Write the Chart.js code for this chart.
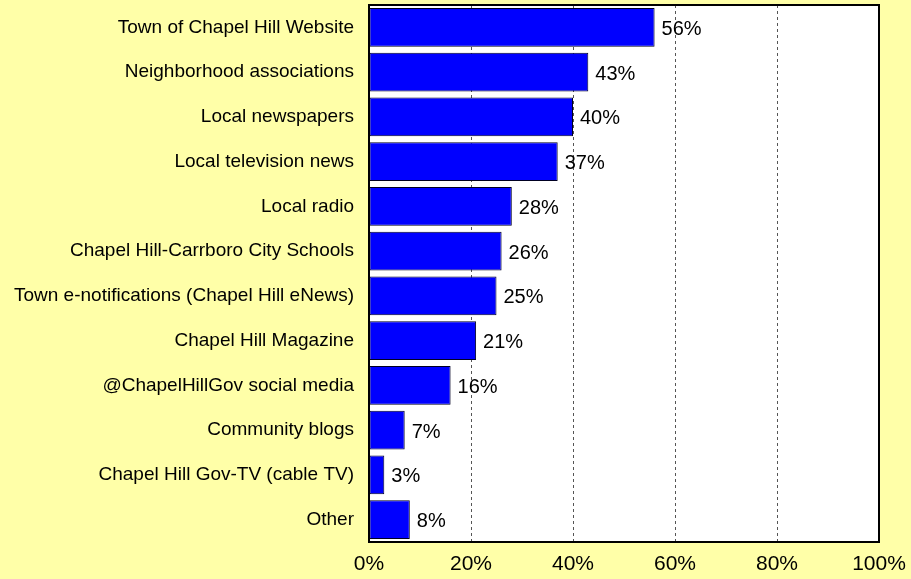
<!DOCTYPE html>
<html>
<head>
<meta charset="utf-8">
<script src="https://cdn.jsdelivr.net/npm/chart.js@4.4.1/dist/chart.umd.min.js"></script>
<style>
  html, body { margin: 0; padding: 0; background: #FFFFA8; }
  #wrap { width: 911px; height: 579px; position: relative; }
</style>
</head>
<body>
<div id="wrap"><canvas id="c"></canvas></div>
<script>
const categories = [
  "Town of Chapel Hill Website",
  "Neighborhood associations",
  "Local newspapers",
  "Local television news",
  "Local radio",
  "Chapel Hill-Carrboro City Schools",
  "Town e-notifications (Chapel Hill eNews)",
  "Chapel Hill Magazine",
  "@ChapelHillGov social media",
  "Community blogs",
  "Chapel Hill Gov-TV (cable TV)",
  "Other"
];
const shares = [56, 43, 40, 37, 28, 26, 25, 21, 16, 7, 3, 8];
const xTicks = [0, 20, 40, 60, 80, 100];

const FONT = "'Liberation Sans', Arial, sans-serif";

// white plot area + black frame
const plotFrame = {
  id: "plotFrame",
  beforeDraw(chart) {
    const { ctx, chartArea: a } = chart;
    ctx.save();
    ctx.fillStyle = "#FFFFFF";
    ctx.fillRect(a.left, a.top, a.right - a.left, a.bottom - a.top);
    ctx.restore();
  },
  afterDraw(chart) {
    const { ctx, chartArea: a } = chart;
    ctx.save();
    ctx.strokeStyle = "#000";
    ctx.lineWidth = 2;
    ctx.strokeRect(a.left, a.top, a.right - a.left, a.bottom - a.top);
    ctx.restore();
  }
};

// value labels right of each bar
const valueLabels = {
  id: "valueLabels",
  afterDatasetsDraw(chart) {
    const { ctx } = chart;
    const meta = chart.getDatasetMeta(0);
    ctx.save();
    ctx.font = "20px " + FONT;
    ctx.fillStyle = "#000";
    ctx.textAlign = "left";
    ctx.textBaseline = "middle";
    meta.data.forEach((bar, i) => {
      ctx.fillText(shares[i] + "%", bar.x + 7, bar.y + 2);
    });
    ctx.restore();
  }
};

new Chart(document.getElementById("c"), {
  type: "bar",
  data: {
    labels: categories,
    datasets: [{
      data: shares,
      backgroundColor: "#0000FF",
      borderColor: "#000022",
      borderWidth: 1,
      borderSkipped: false,
      categoryPercentage: 1,
      barPercentage: 0.87
    }]
  },
  options: {
    indexAxis: "y",
    responsive: true,
    maintainAspectRatio: false,
    animation: false,
    devicePixelRatio: 1,
    layout: { padding: { top: 5, right: 32, bottom: 0, left: 0 } },
    plugins: { legend: { display: false }, tooltip: { enabled: false } },
    scales: {
      x: {
        min: 0, max: 100,
        afterBuildTicks(scale) { scale.ticks = xTicks.map(v => ({ value: v })); },
        afterFit(scale) {
          scale.height = 37;
          scale.paddingLeft = 0;
          scale.paddingRight = 0;
        },
        grid: {
          drawTicks: false,
          color: ctx => (ctx.tick && (ctx.tick.value === 0 || ctx.tick.value === 100)) ? "rgba(0,0,0,0)" : "#555",
          lineWidth: 1
        },
        border: { display: false, dash: [3, 3] },
        ticks: {
          color: "#000",
          font: { family: FONT, size: 21 },
          padding: 10,
          maxRotation: 0,
          callback: v => v + "%"
        }
      },
      y: {
        afterFit(scale) {
          scale.width = 369;
          scale.paddingTop = 0;
          scale.paddingBottom = 0;
        },
        grid: { display: false, drawTicks: false },
        border: { display: false },
        ticks: {
          color: "#000",
          font: { family: FONT, size: 19 },
          padding: 15,
          autoSkip: false
        }
      }
    }
  },
  plugins: [plotFrame, valueLabels]
});
</script>
</body>
</html>
